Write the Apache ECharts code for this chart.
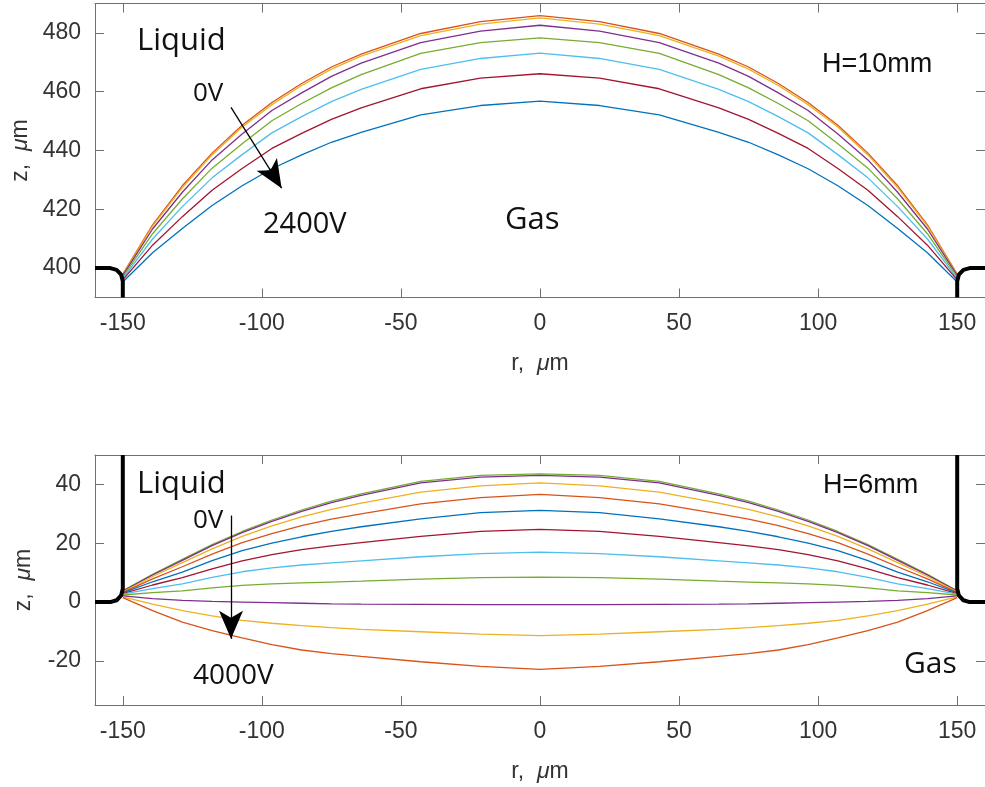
<!DOCTYPE html>
<html>
<head>
<meta charset="utf-8">
<script src="https://cdn.jsdelivr.net/npm/echarts@6/dist/echarts.min.js"></script>
<style>
html, body { margin: 0; padding: 0; background: #fff; }
#chart { width: 985px; height: 787px; }
</style>
</head>
<body>
<div id="chart"></div>
<script>
// radial positions of the profile points, um
var rVals = [-150, -139.3, -128.6, -117.9, -107.1, -96.4, -85.7, -75, -64.3, -42.9, -21.4, 0,
             21.4, 42.9, 64.3, 75, 85.7, 96.4, 107.1, 117.9, 128.6, 139.3, 150];
var xTicks = [-150, -100, -50, 0, 50, 100, 150];
var yTicksTop = [400, 420, 440, 460, 480];
var yTicksBottom = [-20, 0, 20, 40];

// H=10mm, 0V (top) -> 2400V (bottom)
var h10_v1 = [398.0, 414.7, 428.0, 439.1, 448.6, 456.3, 462.8, 468.4, 472.8, 479.8, 483.8, 485.9,
              483.8, 479.8, 472.8, 468.4, 462.8, 456.3, 448.6, 439.1, 428.0, 414.7, 398.0];
var h10_v2 = [397.8, 414.3, 427.4, 438.5, 448.0, 455.6, 462.1, 467.7, 472.1, 479.1, 483.0, 485.1,
              483.0, 479.1, 472.1, 467.7, 462.1, 455.6, 448.0, 438.5, 427.4, 414.3, 397.8];
var h10_v3 = [397.5, 413.3, 425.8, 436.8, 445.6, 453.6, 459.6, 465.2, 469.7, 476.7, 480.6, 482.6,
              480.6, 476.7, 469.7, 465.2, 459.6, 453.6, 445.6, 436.8, 425.8, 413.3, 397.5];
var h10_v4 = [397.0, 411.7, 423.5, 434.0, 442.3, 450.1, 456.0, 461.3, 465.8, 473.0, 476.7, 478.3,
              476.7, 473.0, 465.8, 461.3, 456.0, 450.1, 442.3, 434.0, 423.5, 411.7, 397.0];
var h10_v5 = [396.5, 409.9, 420.9, 430.7, 438.6, 446.0, 451.5, 456.6, 460.8, 467.6, 471.3, 473.1,
              471.3, 467.6, 460.8, 456.6, 451.5, 446.0, 438.6, 430.7, 420.9, 409.9, 396.5];
var h10_v6 = [396.0, 407.8, 417.5, 426.5, 433.9, 440.7, 445.8, 450.6, 454.5, 461.0, 464.6, 466.1,
              464.6, 461.0, 454.5, 450.6, 445.8, 440.7, 433.9, 426.5, 417.5, 407.8, 396.0];
var h10_v7 = [395.3, 405.2, 413.5, 421.3, 428.0, 433.8, 438.5, 442.8, 446.2, 452.1, 455.3, 456.8,
              455.3, 452.1, 446.2, 442.8, 438.5, 433.8, 428.0, 421.3, 413.5, 405.2, 395.3];
var h10Colors = ['#D95319', '#EDB120', '#7E2F8E', '#77AC30', '#4DBEEE', '#A2142F', '#0072BD'];

// H=6mm, 0V (top) -> 4000V (bottom)
var h6_v1  = [3.8, 9.4, 14.5, 19.5, 24.0, 27.9, 31.3, 34.3, 36.8, 41.0, 43.1, 43.6,
              43.1, 41.0, 36.8, 34.3, 31.3, 27.9, 24.0, 19.5, 14.5, 9.4, 3.8];
var h6_v2  = [3.7, 9.2, 14.2, 19.2, 23.6, 27.4, 30.8, 33.8, 36.3, 40.5, 42.5, 43.1,
              42.5, 40.5, 36.3, 33.8, 30.8, 27.4, 23.6, 19.2, 14.2, 9.2, 3.7];
var h6_v3  = [3.5, 8.7, 13.4, 18.1, 22.3, 25.9, 29.0, 31.5, 33.6, 37.4, 39.5, 40.5,
              39.5, 37.4, 33.6, 31.5, 29.0, 25.9, 22.3, 18.1, 13.4, 8.7, 3.5];
var h6_v4  = [3.3, 7.9, 12.0, 16.3, 20.2, 23.3, 26.0, 28.2, 30.0, 33.4, 35.5, 36.6,
              35.5, 33.4, 30.0, 28.2, 26.0, 23.3, 20.2, 16.3, 12.0, 7.9, 3.3];
var h6_v5  = [3.1, 6.9, 10.2, 14.1, 17.5, 20.0, 22.2, 24.0, 25.6, 28.3, 30.4, 31.2,
              30.4, 28.3, 25.6, 24.0, 22.2, 20.0, 17.5, 14.1, 10.2, 6.9, 3.1];
var h6_v6  = [2.9, 5.8, 8.3, 11.3, 14.0, 16.1, 17.8, 19.1, 20.2, 22.3, 24.0, 24.7,
              24.0, 22.3, 20.2, 19.1, 17.8, 16.1, 14.0, 11.3, 8.3, 5.8, 2.9];
var h6_v7  = [2.7, 4.6, 6.2, 8.4, 10.3, 11.6, 12.6, 13.3, 14.0, 15.4, 16.5, 17.0,
              16.5, 15.4, 14.0, 13.3, 12.6, 11.6, 10.3, 8.4, 6.2, 4.6, 2.7];
var h6_v8  = [2.4, 3.2, 3.8, 4.8, 5.7, 6.2, 6.5, 6.8, 7.1, 7.8, 8.3, 8.5,
              8.3, 7.8, 7.1, 6.8, 6.5, 6.2, 5.7, 4.8, 3.8, 3.2, 2.4];
var h6_v9  = [2.1, 1.2, 0.6, 0.2, 0.0, -0.2, -0.4, -0.6, -0.7, -0.8, -0.9, -0.9,
              -0.9, -0.8, -0.7, -0.6, -0.4, -0.2, 0.0, 0.2, 0.6, 1.2, 2.1];
var h6_v10 = [1.8, -0.7, -2.9, -4.7, -6.2, -7.2, -8.0, -8.7, -9.3, -10.1, -10.9, -11.4,
              -10.9, -10.1, -9.3, -8.7, -8.0, -7.2, -6.2, -4.7, -2.9, -0.7, 1.8];
var h6_v11 = [1.5, -2.9, -6.8, -9.7, -12.2, -14.5, -16.3, -17.5, -18.5, -20.3, -21.9, -22.9,
              -21.9, -20.3, -18.5, -17.5, -16.3, -14.5, -12.2, -9.7, -6.8, -2.9, 1.5];
var h6Colors = ['#77AC30', '#7E2F8E', '#EDB120', '#D95319', '#0072BD', '#A2142F', '#4DBEEE',
                '#77AC30', '#7E2F8E', '#EDB120', '#D95319'];

// capillary walls (black outlines)
var wallTopLeft = [[-160, 400], [-154.5, 400], [-152.25, 399.4], [-150.6, 397.75], [-150, 395.5], [-150, 390]];
var wallTopRight = [[150, 390], [150, 395.5], [150.6, 397.75], [152.25, 399.4], [154.5, 400], [160, 400]];
var wallBotLeft = [[-150, 50], [-150, 4.5], [-150.6, 2.25], [-152.25, 0.6], [-154.5, 0], [-160, 0]];
var wallBotRight = [[150, 50], [150, 4.5], [150.6, 2.25], [152.25, 0.6], [154.5, 0], [160, 0]];

// voltage arrows (data coordinates)
var arrowTop = [[-111.1, 454.7], [-92.9, 427.2]];
var arrowBot = [[-111.1, 29.4], [-111.1, -12.5]];

var axisColor = '#707070';
var labelColor = '#333';
var tickFont = 'Liberation Sans';

function pts(ys) {
    return rVals.map(function (r, i) { return [r, ys[i]]; });
}

function nameStyle() {
    return {
        color: labelColor, fontSize: 23, fontFamily: tickFont,
        rich: {
            mu: { color: labelColor, fontSize: 23, fontFamily: tickFont, fontStyle: 'italic' }
        }
    };
}

function makeX(gridIndex, position, main) {
    return {
        type: 'value', gridIndex: gridIndex, position: position,
        min: -160, max: 160,
        axisLine: { show: true, onZero: false, lineStyle: { color: axisColor, width: 1 } },
        axisTick: { show: true, inside: true, length: 9, customValues: xTicks, lineStyle: { color: axisColor } },
        axisLabel: { show: main, customValues: xTicks, margin: 15, color: labelColor, fontSize: 23, fontFamily: tickFont },
        splitLine: { show: false },
        name: main ? 'r,  {mu|\u03bc}m' : '',
        nameLocation: 'middle', nameGap: 55,
        nameTextStyle: nameStyle()
    };
}

function makeY(gridIndex, position, main, min, max, ticks) {
    return {
        type: 'value', gridIndex: gridIndex, position: position,
        min: min, max: max,
        axisLine: { show: true, onZero: false, lineStyle: { color: axisColor, width: 1 } },
        axisTick: { show: true, inside: true, length: 9, customValues: ticks, lineStyle: { color: axisColor } },
        axisLabel: { show: main, customValues: ticks, margin: 14, color: labelColor, fontSize: 23, fontFamily: tickFont },
        splitLine: { show: false },
        name: main ? 'z,  {mu|\u03bc}m' : '',
        nameLocation: 'middle', nameGap: 60,
        nameTextStyle: nameStyle()
    };
}

function curve(data, color, xi, yi) {
    return {
        type: 'line', xAxisIndex: xi, yAxisIndex: yi,
        data: pts(data), showSymbol: false, symbol: 'none',
        lineStyle: { color: color, width: 1.3 },
        silent: true, z: 2
    };
}

function wall(data, xi, yi) {
    return {
        type: 'line', xAxisIndex: xi, yAxisIndex: yi,
        data: data, showSymbol: false, symbol: 'none', clip: true,
        lineStyle: { color: '#000', width: 4 },
        silent: true, z: 3
    };
}

function arrow(coords, xi, yi) {
    return {
        type: 'line', xAxisIndex: xi, yAxisIndex: yi, data: [], silent: true,
        markLine: {
            silent: true, animation: false,
            symbol: ['none', 'arrow'], symbolSize: [18, 28],
            label: { show: false },
            lineStyle: { color: '#000', width: 1.3, type: 'solid' },
            emphasis: { disabled: true },
            data: [[{ coord: coords[0] }, { coord: coords[1] }]]
        }
    };
}

var series = [];
[h10_v1, h10_v2, h10_v3, h10_v4, h10_v5, h10_v6, h10_v7].forEach(function (d, i) {
    series.push(curve(d, h10Colors[i], 0, 0));
});
[h6_v1, h6_v2, h6_v3, h6_v4, h6_v5, h6_v6, h6_v7, h6_v8, h6_v9, h6_v10, h6_v11].forEach(function (d, i) {
    series.push(curve(d, h6Colors[i], 2, 2));
});
series.push(wall(wallTopLeft, 0, 0));
series.push(wall(wallTopRight, 0, 0));
series.push(wall(wallBotLeft, 2, 2));
series.push(wall(wallBotRight, 2, 2));
series.push(arrow(arrowTop, 0, 0));
series.push(arrow(arrowBot, 2, 2));

function note(text, x, y, size, family) {
    return {
        type: 'text', x: x, y: y, silent: true, z: 10,
        style: {
            text: text, fill: '#111',
            font: size + 'px "' + family + '"',
            textAlign: 'left', textVerticalAlign: 'middle'
        }
    };
}

var chart = echarts.init(document.getElementById('chart'));
chart.setOption({
    animation: false,
    backgroundColor: '#fff',
    grid: [
        { left: 95, top: 3.5, width: 895, height: 294 },
        { left: 95, top: 455, width: 895, height: 250 }
    ],
    xAxis: [
        makeX(0, 'bottom', true),
        makeX(0, 'top', false),
        makeX(1, 'bottom', true),
        makeX(1, 'top', false)
    ],
    yAxis: [
        makeY(0, 'left', true, 390, 490, yTicksTop),
        makeY(0, 'right', false, 390, 490, yTicksTop),
        makeY(1, 'left', true, -35, 50, yTicksBottom),
        makeY(1, 'right', false, -35, 50, yTicksBottom)
    ],
    series: series,
    graphic: [
        note('Liquid', 137, 41, 31, 'Open Sans'),
        note('0V', 193, 93.5, 26, 'Open Sans'),
        note('2400V', 263, 225, 29, 'Open Sans'),
        note('Gas', 505, 220, 31, 'Open Sans'),
        note('H=10mm', 822, 65, 27, 'Liberation Sans'),
        note('Liquid', 137, 484, 31, 'Open Sans'),
        note('0V', 193, 521, 26, 'Open Sans'),
        note('4000V', 193, 676, 28, 'Open Sans'),
        note('Gas', 904, 664, 30, 'Open Sans'),
        note('H=6mm', 823, 486, 27, 'Liberation Sans')
    ]
});
</script>
</body>
</html>
